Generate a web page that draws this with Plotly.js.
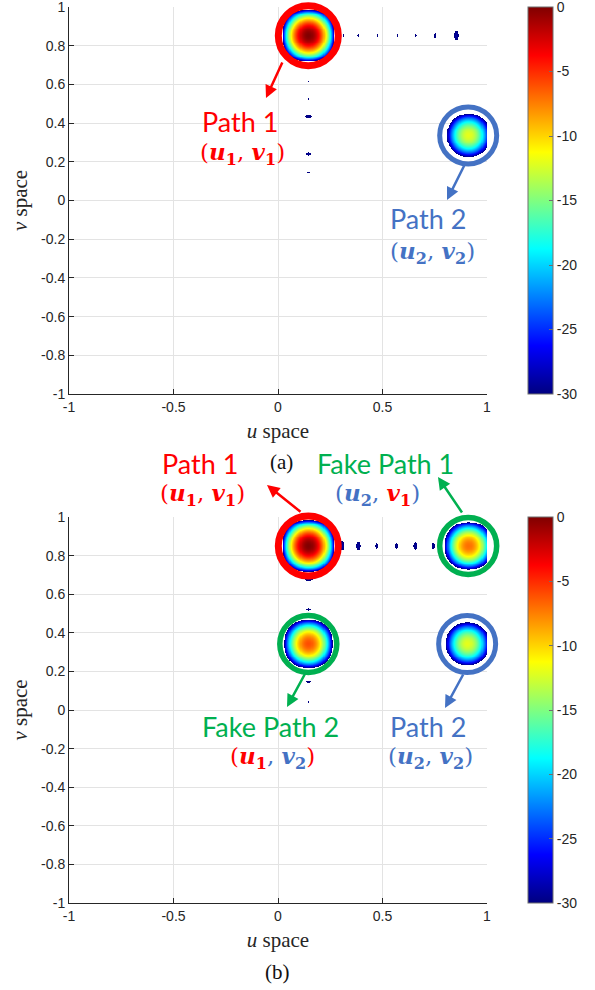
<!DOCTYPE html>
<html>
<head>
<meta charset="utf-8">
<script src="https://cdn.plot.ly/plotly-3.0.1.min.js"></script>
<style>html,body{margin:0;padding:0;background:#fff;overflow:hidden}</style>
</head>
<body>
<div id="chart" style="width:595px;height:990px"></div>
<script>
// ---- Beam positions (u, v) and peak power in dB ----
// (a): Path 1, Path 2
const pathsA_u  = [0.145, 0.910];
const pathsA_v  = [0.852, 0.336];
const pathsA_db = [0, -12];
// (b): Path 1, Fake Path 1, Fake Path 2, Path 2
const pathsB_u  = [0.145, 0.910, 0.145, 0.905];
const pathsB_v  = [0.850, 0.850, 0.342, 0.342];
const pathsB_db = [0, -7, -6, -12];

// Residual sidelobes just above the -30 dB floor
// along the v1 row (u positions) and the u1 column (v positions)
const rowLobesA_u  = [0.311, 0.383, 0.474, 0.569, 0.656, 0.751, 0.852];
const rowLobesA_db = [-29.94, -29.91, -29.94, -29.91, -29.87, -29.77, -29.18];
const colLobesA_v  = [0.614, 0.525, 0.432, 0.240, 0.142];
const colLobesA_db = [-29.97, -29.93, -29.6, -29.6, -29.93];

const rowLobesB_u  = [0.306, 0.383, 0.471, 0.565, 0.656, 0.742];
const rowLobesB_db = [-29.18, -29.34, -29.7, -29.7, -29.48, -29.6];
const colLobesB_v  = [0.676, 0.520, 0.147, 0.040];
const colLobesB_db = [-29.5, -29.8, -29.8, -29.93];

// ---- Axis / colorbar ticks ----
const uTicks = [-1, -0.5, 0, 0.5, 1];
const uTickText = ['-1', '-0.5', '0', '0.5', '1'];
const vTicks = [-1, -0.8, -0.6, -0.4, -0.2, 0, 0.2, 0.4, 0.6, 0.8, 1];
const vTickText = ['-1', '-0.8', '-0.6', '-0.4', '-0.2', '0', '0.2', '0.4', '0.6', '0.8', '1'];
const dbTicks = [-30, -25, -20, -15, -10, -5, 0];
const dbTickText = ['-30', '-25', '-20', '-15', '-10', '-5', '0'];

// ---- Spectrum model ----
const FLOOR_DB = -30;
const MAIN_HALF_U = 0.125, MAIN_HALF_V = 0.134, SIDE_HALF = 0.06;
// dB loss across one lobe, normalised so a main lobe reaches -30 dB at x = 1
function lobeLoss(x) { const x2 = x * x; return 25 * x2 + 5 * x2 * x2 * x2 * x2 * x2; }

const STEP = 0.0025;
const grid = [];
for (let k = 0; k <= 800; k++) grid.push(-1 + k * STEP);

function spectrum(lobes) {
  const n = grid.length;
  const z = Array.from({length: n}, () => new Array(n).fill(null));
  const idx = c => Math.round((c + 1) / STEP);
  for (const L of lobes) {
    const i0 = Math.max(0, idx(L.u - L.su) - 1), i1 = Math.min(n - 1, idx(L.u + L.su) + 1);
    const j0 = Math.max(0, idx(L.v - L.sv) - 1), j1 = Math.min(n - 1, idx(L.v + L.sv) + 1);
    for (let j = j0; j <= j1; j++) {
      const lv = L.peak - lobeLoss((grid[j] - L.v) / L.sv);
      if (lv < FLOOR_DB) continue;
      const row = z[j];
      for (let i = i0; i <= i1; i++) {
        const val = lv - lobeLoss((grid[i] - L.u) / L.su);
        if (val >= FLOOR_DB && (row[i] === null || val > row[i])) row[i] = val;
      }
    }
  }
  return z;
}

function buildLobes(pu, pv, pdb, rowU, rowDb, colV, colDb) {
  const lobes = [];
  pu.forEach((u, k) => lobes.push({u, v: pv[k], peak: pdb[k], su: MAIN_HALF_U, sv: MAIN_HALF_V}));
  rowU.forEach((u, k) => lobes.push({u, v: pv[0], peak: rowDb[k], su: SIDE_HALF, sv: MAIN_HALF_V}));
  colV.forEach((v, k) => lobes.push({u: pu[0], v, peak: colDb[k], su: MAIN_HALF_U, sv: SIDE_HALF}));
  return lobes;
}

const zA = spectrum(buildLobes(pathsA_u, pathsA_v, pathsA_db, rowLobesA_u, rowLobesA_db, colLobesA_v, colLobesA_db));
const zB = spectrum(buildLobes(pathsB_u, pathsB_v, pathsB_db, rowLobesB_u, rowLobesB_db, colLobesB_v, colLobesB_db));

// ---- Page geometry (pixels) ----
const W = 595, H = 990;
const px = x => x / W, py = y => 1 - y / H;

const JET = [[0, 'rgb(0,0,128)'], [0.125, 'rgb(0,0,255)'], [0.375, 'rgb(0,255,255)'],
             [0.625, 'rgb(255,255,0)'], [0.875, 'rgb(255,0,0)'], [1, 'rgb(128,0,0)']];

const RED = '#FF0000', GREEN = '#00B050', BLUE = '#4472C4', INK = '#262626';
const tickFont = {family: 'Liberation Sans, Arial, sans-serif', size: 14, color: INK};
const serif = 'Liberation Serif, Times New Roman, serif';

function axisStyle(extra) {
  return Object.assign({
    range: [-1, 1], showline: true, linecolor: INK, linewidth: 1, mirror: false,
    ticks: 'inside', ticklen: 5, tickwidth: 1, tickcolor: INK,
    showgrid: true, gridcolor: '#e3e3e3', gridwidth: 1, zeroline: false,
    tickfont: tickFont, ticklabeloverflow: 'allow', fixedrange: true
  }, extra);
}

function colorbarAxis(topPx, botPx) {
  return {
    cmin: -30, cmax: 0, colorscale: JET,
    colorbar: {
      x: px(528), xanchor: 'left', thickness: 25, thicknessmode: 'pixels',
      len: (botPx - topPx) / H, lenmode: 'fraction', y: py((topPx + botPx) / 2), yanchor: 'middle',
      xpad: 0, ypad: 0, outlinewidth: 1, outlinecolor: '#6e6e6e',
      ticks: 'inside', ticklen: 4, tickcolor: '#6e6e6e', ticklabeloverflow: 'allow',
      tickvals: dbTicks, ticktext: dbTickText, tickfont: tickFont
    }
  };
}

const traces = [
  {type: 'heatmap', x: grid, y: grid, z: zA, coloraxis: 'coloraxis', zsmooth: false,
   xaxis: 'x', yaxis: 'y', hoverinfo: 'skip'},
  {type: 'heatmap', x: grid, y: grid, z: zB, coloraxis: 'coloraxis2', zsmooth: false,
   xaxis: 'x2', yaxis: 'y2', hoverinfo: 'skip'}
];

// Circles drawn around each beam, anchored at its (u, v)
function ring(xAx, yAx, u, v, r, color, width) {
  return {type: 'circle', xref: xAx + ' domain', yref: yAx + ' domain',
          xsizemode: 'pixel', ysizemode: 'pixel',
          xanchor: (u + 1) / 2, yanchor: (v + 1) / 2,
          x0: -r, x1: r, y0: -r, y1: r,
          line: {color, width}, fillcolor: 'rgba(0,0,0,0)', layer: 'above'};
}
const shapes = [
  ring('x', 'y', pathsA_u[0], pathsA_v[0], 30, RED, 7),
  ring('x', 'y', pathsA_u[1], pathsA_v[1], 28.5, BLUE, 5),
  ring('x2', 'y2', pathsB_u[0], pathsB_v[0], 30, RED, 7),
  ring('x2', 'y2', pathsB_u[1], pathsB_v[1], 28.5, GREEN, 5.5),
  ring('x2', 'y2', pathsB_u[2], pathsB_v[2], 28.5, GREEN, 5.5),
  ring('x2', 'y2', pathsB_u[3], pathsB_v[3], 28.5, BLUE, 5)
];

function label(x, y, text, color, size, family) {
  return {xref: 'paper', yref: 'paper', x: px(x), y: py(y), xanchor: 'center', yanchor: 'middle',
          text, showarrow: false, font: {family, size, color}};
}
function arrow(tail, tip, color) {
  return {xref: 'paper', yref: 'paper', x: px(tip[0]), y: py(tip[1]),
          axref: 'pixel', ayref: 'pixel', ax: tail[0] - tip[0], ay: tail[1] - tip[1],
          text: '', showarrow: true, arrowhead: 2, arrowsize: 1, arrowwidth: 2.5,
          arrowcolor: color, standoff: 0, startstandoff: 0};
}
const sans = 'Lato, Open Sans, sans-serif';
const math = 'DejaVu Serif, serif';
const U = n => '<b><i>u</i><sub>' + n + '</sub></b>';
const V = n => '<b><i>v</i><sub>' + n + '</sub></b>';
const c = (col, t) => '<span style="color:' + col + '">' + t + '</span>';

const NAME = 27, MATH = 23, CAPTION = 21;
const annotations = [
  // (a)
  label(240, 121, 'Path 1', RED, NAME, sans),
  label(242, 153, '(' + U(1) + ', ' + V(1) + ')', RED, MATH, math),
  arrow([283, 61], [266, 98], RED),
  label(428, 219, 'Path 2', BLUE, NAME, sans),
  label(432, 253, '(' + U(2) + ', ' + V(2) + ')', BLUE, MATH, math),
  arrow([465, 164], [447, 200], BLUE),
  label(281, 462, '(a)', '#111', CAPTION, serif),
  // (b)
  label(200, 463, 'Path 1', RED, NAME, sans),
  label(202, 494, '(' + U(1) + ', ' + V(1) + ')', RED, MATH, math),
  arrow([302, 513], [267, 485], RED),
  label(385, 463, 'Fake Path 1', GREEN, NAME, sans),
  label(377, 494, c(BLUE, '(' + U(2) + ', ') + c(RED, V(1)) + c(BLUE, ')'), BLUE, MATH, math),
  arrow([463, 514], [438, 477], GREEN),
  label(270, 726, 'Fake Path 2', GREEN, NAME, sans),
  label(272, 757, c(RED, '(' + U(1)) + c(BLUE, ', ' + V(2)) + c(RED, ')'), RED, MATH, math),
  arrow([306, 672], [287, 707], GREEN),
  label(428, 726, 'Path 2', BLUE, NAME, sans),
  label(430, 757, '(' + U(2) + ', ' + V(2) + ')', BLUE, MATH, math),
  arrow([464, 673], [445, 708], BLUE),
  label(277, 972, '(b)', '#111', CAPTION, serif)
];

const xTitle = {text: '<i>u</i> space', font: {family: serif, size: 21, color: INK}, standoff: 9};
const yTitle = {text: '<i>v</i> space', font: {family: serif, size: 21, color: INK}, standoff: 7};

const layout = {
  width: W, height: H, margin: {l: 0, r: 0, t: 0, b: 0},
  paper_bgcolor: '#fff', plot_bgcolor: '#fff', showlegend: false,
  xaxis:  axisStyle({domain: [px(69), px(487)], anchor: 'y',  tickvals: uTicks, ticktext: uTickText, title: xTitle}),
  yaxis:  axisStyle({domain: [py(394), py(7)],  anchor: 'x',  tickvals: vTicks, ticktext: vTickText, title: yTitle}),
  xaxis2: axisStyle({domain: [px(69), px(487)], anchor: 'y2', tickvals: uTicks, ticktext: uTickText, title: xTitle}),
  yaxis2: axisStyle({domain: [py(903), py(517)], anchor: 'x2', tickvals: vTicks, ticktext: vTickText, title: yTitle}),
  coloraxis: colorbarAxis(7, 394),
  coloraxis2: colorbarAxis(517, 903),
  shapes, annotations
};

Plotly.newPlot('chart', traces, layout, {staticPlot: true, displayModeBar: false});
</script>
</body>
</html>
